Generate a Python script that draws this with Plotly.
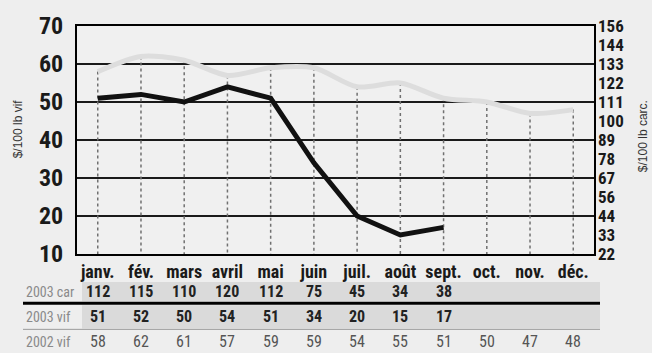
import plotly.graph_objects as go

# Monthly hog prices, $/100 lb live weight, with carcass equivalents
months = ["janv.", "fév.", "mars", "avril", "mai", "juin", "juil.", "août", "sept.", "oct.", "nov.", "déc."]
car_2003 = [112, 115, 110, 120, 112, 75, 45, 34, 38]
vif_2003 = [51, 52, 50, 54, 51, 34, 20, 15, 17]
vif_2002 = [58, 62, 61, 57, 59, 59, 54, 55, 51, 50, 47, 48]

left_ticks = [10, 20, 30, 40, 50, 60, 70]
right_tickvals = [10, 15, 20, 25, 30, 35, 40, 45, 50, 55, 60, 65, 70]
right_ticktext = ["22", "33", "44", "56", "67", "78", "89", "100", "111", "122", "133", "144", "156"]

W, H = 652, 353
L, R, T, B = 77, 594, 18, 254

NARROW = "Roboto Condensed, Open Sans Condensed, sans-serif"


def px_x(p):
    return (p - L) / (R - L)


def px_y(p):
    return (B - p) / (B - T)


xs = list(range(len(months)))

fig = go.Figure()

# dotted drop lines from the 2002 curve down to the baseline
dx, dy = [], []
for i, v in enumerate(vif_2002):
    dx += [i, i, None]
    dy += [v, 10, None]
fig.add_trace(go.Scatter(x=dx, y=dy, mode="lines",
                         line=dict(color="#707070", width=1.5, dash="dot"),
                         hoverinfo="skip", showlegend=False))

fig.add_trace(go.Scatter(x=xs, y=vif_2002, mode="lines",
                         line=dict(color="#dddddd", width=5, shape="spline", smoothing=0.8),
                         name="2002 vif", showlegend=False))

fig.add_trace(go.Scatter(x=xs[:len(vif_2003)], y=vif_2003, mode="lines",
                         line=dict(color="#111111", width=5),
                         name="2003 vif", showlegend=False))

# invisible trace to carry the carcass-weight axis
fig.add_trace(go.Scatter(x=[0], y=[10], yaxis="y2", mode="markers",
                         marker=dict(opacity=0), hoverinfo="skip", showlegend=False))

shapes = []
# table row bands
for y0, y1 in [(283, 303), (307, 331)]:
    shapes.append(dict(type="rect", xref="paper", yref="paper",
                       x0=px_x(82), x1=px_x(600), y0=px_y(y1), y1=px_y(y0),
                       fillcolor="#dadada", line=dict(width=0), layer="below"))
shapes.append(dict(type="line", xref="paper", yref="paper",
                   x0=px_x(23), x1=px_x(600), y0=px_y(305), y1=px_y(305),
                   line=dict(color="#000000", width=3)))
shapes.append(dict(type="line", xref="paper", yref="paper",
                   x0=px_x(23), x1=px_x(600), y0=px_y(332), y1=px_y(332),
                   line=dict(color="#9a9a9a", width=1)))

annotations = []
rows = [("2003 car", car_2003, 293, True), ("2003 vif", vif_2003, 319, True), ("2002 vif", vif_2002, 345, False)]
for label, vals, yc, bold in rows:
    annotations.append(dict(text=label, xref="paper", yref="paper", x=px_x(24), y=px_y(yc),
                            xanchor="left", yanchor="middle", showarrow=False,
                            font=dict(family=NARROW, size=14, color="#8a8a8a")))
    for i, v in enumerate(vals):
        txt = f"<b>{v}</b>" if bold else str(v)
        annotations.append(dict(text=txt, xref="x", yref="paper", x=i, y=px_y(yc),
                                xanchor="center", yanchor="middle", showarrow=False,
                                font=dict(family=NARROW, size=16,
                                          color="#222222" if bold else "#555555")))

annotations.append(dict(text="$/100 lb vif", xref="paper", yref="paper", x=px_x(18), y=px_y(125),
                        textangle=-90, showarrow=False, xanchor="center", yanchor="middle",
                        font=dict(family="Liberation Sans, Arial, sans-serif", size=12, color="#333333")))
annotations.append(dict(text="$/100 lb carc.", xref="paper", yref="paper", x=px_x(643), y=px_y(132),
                        textangle=-90, showarrow=False, xanchor="center", yanchor="middle",
                        font=dict(family="Liberation Sans, Arial, sans-serif", size=12, color="#333333")))

fig.update_layout(
    width=W, height=H,
    margin=dict(l=L, r=W - R, t=T, b=H - B),
    paper_bgcolor="#eeeeee", plot_bgcolor="#f0f0f0",
    showlegend=False,
    xaxis=dict(range=[-0.48, 11.48], tickvals=xs, ticktext=[f"<b>{m}</b>" for m in months],
               showgrid=False, zeroline=False, showline=True, mirror=True,
               linecolor="#000000", linewidth=2, ticks="", ticklen=0, ticklabelstandoff=0,
               tickfont=dict(family=NARROW, size=18, color="#1a1a1a")),
    yaxis=dict(range=[10, 70], tickvals=left_ticks, ticktext=[f"<b>{v}</b>" for v in left_ticks],
               showgrid=True, gridcolor="#1a1a1a", gridwidth=1.5, zeroline=False,
               showline=True, mirror=True, linecolor="#000000", linewidth=2, ticks="",
               ticklabelstandoff=7,
               tickfont=dict(family=NARROW, size=24, color="#1a1a1a")),
    yaxis2=dict(range=[10, 70], overlaying="y", side="right", tickvals=right_tickvals,
                ticktext=[f"<b>{t}</b>" for t in right_ticktext], showgrid=False, zeroline=False,
                ticks="", ticklabelstandoff=3,
                tickfont=dict(family=NARROW, size=17, color="#1a1a1a")),
    shapes=shapes,
    annotations=annotations,
)

fig.write_html("out.html")
